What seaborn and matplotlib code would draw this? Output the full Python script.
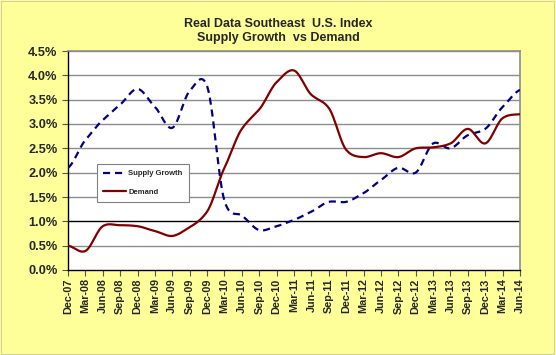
import numpy as np
import pandas as pd
import matplotlib
matplotlib.use("Agg")
import matplotlib.pyplot as plt
import seaborn as sns

quarters = ["Dec-07", "Mar-08", "Jun-08", "Sep-08", "Dec-08", "Mar-09", "Jun-09",
            "Sep-09", "Dec-09", "Mar-10", "Jun-10", "Sep-10", "Dec-10", "Mar-11",
            "Jun-11", "Sep-11", "Dec-11", "Mar-12", "Jun-12", "Sep-12", "Dec-12",
            "Mar-13", "Jun-13", "Sep-13", "Dec-13", "Mar-14", "Jun-14"]
supply = [2.1, 2.67, 3.08, 3.4, 3.72, 3.35, 2.92, 3.68, 3.78, 1.42, 1.12, 0.82, 0.9, 1.03,
          1.2, 1.4, 1.4, 1.58, 1.85, 2.1, 2.0, 2.6, 2.5, 2.77, 2.9, 3.35, 3.7]
demand = [0.5, 0.39, 0.9, 0.92, 0.9, 0.8, 0.7, 0.88, 1.2, 2.1, 2.9, 3.3, 3.86, 4.1,
          3.6, 3.33, 2.47, 2.32, 2.4, 2.32, 2.5, 2.52, 2.6, 2.9, 2.6, 3.12, 3.2]
yticks = [0.0, 0.5, 1.0, 1.5, 2.0, 2.5, 3.0, 3.5, 4.0, 4.5]


def smooth(vals, n=12, k=0.85):
    """Cardinal-spline smoothing similar to Excel's smoothed lines."""
    v = np.asarray(vals, float)
    p = np.concatenate([[v[0]], v, [v[-1]]])
    xs, ys = [], []
    t = np.linspace(0, 1, n, endpoint=False)
    h00 = 2 * t ** 3 - 3 * t ** 2 + 1
    h10 = t ** 3 - 2 * t ** 2 + t
    h01 = -2 * t ** 3 + 3 * t ** 2
    h11 = t ** 3 - t ** 2
    for i in range(len(v) - 1):
        p0, p1, p2, p3 = p[i], p[i + 1], p[i + 2], p[i + 3]
        m1 = k * (p2 - p0) / 2
        m2 = k * (p3 - p1) / 2
        y = p1 * h00 + m1 * h10 + p2 * h01 + m2 * h11
        xs.extend(i + t)
        ys.extend(y)
    xs.append(len(v) - 1)
    ys.append(v[-1])
    return np.array(xs), np.array(ys)


sx, sy = smooth(supply)
dx, dy = smooth(demand)
df = pd.concat([
    pd.DataFrame({"x": sx, "y": sy, "series": "Supply Growth"}),
    pd.DataFrame({"x": dx, "y": dy, "series": "Demand"}),
])

sns.set_theme(style="white")
plt.rcParams["font.family"] = ["Liberation Sans", "DejaVu Sans"]

bg = "#FFFF99"
fig = plt.figure(figsize=(5.56, 3.55), dpi=100, facecolor=bg)
ax = fig.add_axes([68 / 556, 1 - 270 / 355, (520 - 68) / 556, (270 - 51) / 355])
ax.set_facecolor("white")

# gridlines
for yv in yticks[1:]:
    ax.axhline(yv, color="black" if yv == 1.0 else "#8c8c8c",
               lw=1.0, zorder=1)

sns.lineplot(data=df, x="x", y="y", hue="series", style="series",
             palette={"Supply Growth": "#000080", "Demand": "#800000"},
             dashes={"Supply Growth": (3.2, 2.2), "Demand": ""},
             linewidth=1.6, sort=False, ax=ax, zorder=3, legend=True)

ax.set_xlim(0, len(quarters) - 1)
ax.set_ylim(0, 4.5)
ax.set_xticks(range(len(quarters)))
ax.set_xticklabels(quarters, rotation=90, fontsize=7.8, fontweight="bold")
ax.set_yticks(yticks)
ax.set_yticklabels([f"{v:.1f}%" for v in yticks], fontsize=9.2, fontweight="bold")
ax.set_xlabel("")
ax.set_ylabel("")
ax.tick_params(axis="y", direction="out", length=4.5, width=0.8,
               color="#555555", pad=3, left=True)
ax.tick_params(axis="x", direction="out", length=4, width=0.8,
               color="#555555", pad=2, bottom=True)

for side in ["left", "bottom"]:
    ax.spines[side].set_color("black")
    ax.spines[side].set_linewidth(1.0)
for side in ["top", "right"]:
    ax.spines[side].set_color("#8c8c8c")
    ax.spines[side].set_linewidth(1.2)

handles, labels = ax.get_legend_handles_labels()
leg = ax.legend(handles, labels, loc="upper left",
                bbox_to_anchor=((97 - 68) / 452, 1 - (164 - 51) / 219),
                fontsize=5.5, frameon=True, fancybox=False, framealpha=1,
                edgecolor="#808080", handlelength=3.0, labelspacing=1.4,
                borderpad=0.8, handletextpad=0.3, borderaxespad=0)
leg.get_frame().set_linewidth(0.8)
for t in leg.get_texts():
    t.set_fontweight("bold")

fig.text(0.5, 1 - 24 / 355, "Real Data Southeast  U.S. Index", ha="center",
         va="center", fontsize=9, fontweight="bold")
fig.text(0.5, 1 - 37.5 / 355, "Supply Growth  vs Demand", ha="center",
         va="center", fontsize=9, fontweight="bold")

fig.patches.append(plt.Rectangle((0.002, 0.003), 0.995, 0.993, transform=fig.transFigure,
                                 fill=False, edgecolor="#d0d0a0", lw=0.8))

fig.savefig("out.png", dpi=100, facecolor=bg)
